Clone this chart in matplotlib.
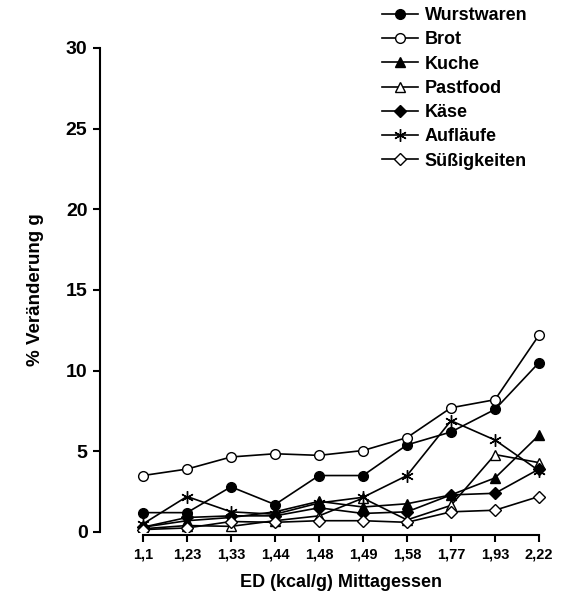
import matplotlib
matplotlib.use("Agg")
import matplotlib.pyplot as plt

plt.rcParams['font.family'] = ['Liberation Sans', 'DejaVu Sans']
plt.rcParams['font.weight'] = 'bold'

# ---------------- DATA ----------------
ed_labels = ["1,1", "1,23", "1,33", "1,44", "1,48", "1,49", "1,58", "1,77", "1,93", "2,22"]

wurstwaren = [1.2, 1.2, 2.8, 1.7, 3.5, 3.5, 5.4, 6.2, 7.6, 10.5]
brot = [3.5, 3.9, 4.65, 4.85, 4.75, 5.05, 5.85, 7.7, 8.2, 12.2]
kuche = [0.3, 0.7, 0.9, 1.25, 1.9, 1.55, 1.75, 2.3, 3.35, 6.0]
pastfood = [0.2, 0.4, 0.35, 0.7, 1.0, 2.1, 0.75, 1.65, 4.8, 4.3]
kaese = [0.3, 0.9, 1.0, 1.0, 1.5, 1.15, 1.25, 2.3, 2.4, 3.9]
auflaeufe = [0.5, 2.2, 1.25, 1.1, 1.8, 2.15, 3.5, 6.9, 5.7, 3.8]
suessigkeiten = [0.15, 0.25, 0.65, 0.6, 0.7, 0.7, 0.6, 1.25, 1.35, 2.2]

series = [
    ("Wurstwaren", wurstwaren, "o", "black"),
    ("Brot", brot, "o", "white"),
    ("Kuche", kuche, "^", "black"),
    ("Pastfood", pastfood, "^", "white"),
    ("Käse", kaese, "D", "black"),
    ("Aufläufe", auflaeufe, (6, 2, 0), "black"),
    ("Süßigkeiten", suessigkeiten, "D", "white"),
]

# ---------------- PLOT ----------------
fig = plt.figure(figsize=(5.61, 6.0), dpi=100)
ax = fig.add_axes([100/561, 68/600, 445/561, 484/600])

x = list(range(len(ed_labels)))
for name, vals, mk, fc in series:
    ms = 6 if mk == "D" else 7
    if mk == (6, 2, 0):
        ms = 9
    ax.plot(x, vals, color="black", linewidth=1.2, marker=mk, markersize=ms,
            markerfacecolor=fc, markeredgecolor="black", markeredgewidth=1.0,
            label=name)

ax.set_xlim(-43/44, 9 + 6/44)
ax.set_ylim(0, 30)
ax.set_yticks([0, 5, 10, 15, 20, 25, 30])
ax.set_xticks(x)
ax.set_xticklabels(ed_labels)

ax.spines['top'].set_visible(False)
ax.spines['right'].set_visible(False)
ax.spines['left'].set_linewidth(1.5)
ax.spines['bottom'].set_linewidth(1.5)
ax.spines['bottom'].set_bounds(0, 9)
ax.spines['bottom'].set_position(('outward', 2))
ax.tick_params(axis='y', labelsize=14, width=1.5, length=5, pad=4)
ax.tick_params(axis='x', labelsize=10.5, width=1.5, length=5, pad=4)
for lab in ax.get_xticklabels() + ax.get_yticklabels():
    lab.set_fontweight('bold')

ax.set_xlabel("ED (kcal/g) Mittagessen", fontsize=13, fontweight='bold')
ax.xaxis.set_label_coords((341 - 100) / 445, -0.086)
ax.set_ylabel("% Veränderung g", fontsize=13.5, fontweight='bold', labelpad=16)

leg = fig.legend(loc="upper left", bbox_to_anchor=(375/561, 1.0), frameon=False,
                 fontsize=13, handlelength=2.0, handletextpad=0.35,
                 labelspacing=0.4, borderaxespad=0.0)
for t in leg.get_texts():
    t.set_fontweight('bold')

fig.savefig("out.png", dpi=100)
